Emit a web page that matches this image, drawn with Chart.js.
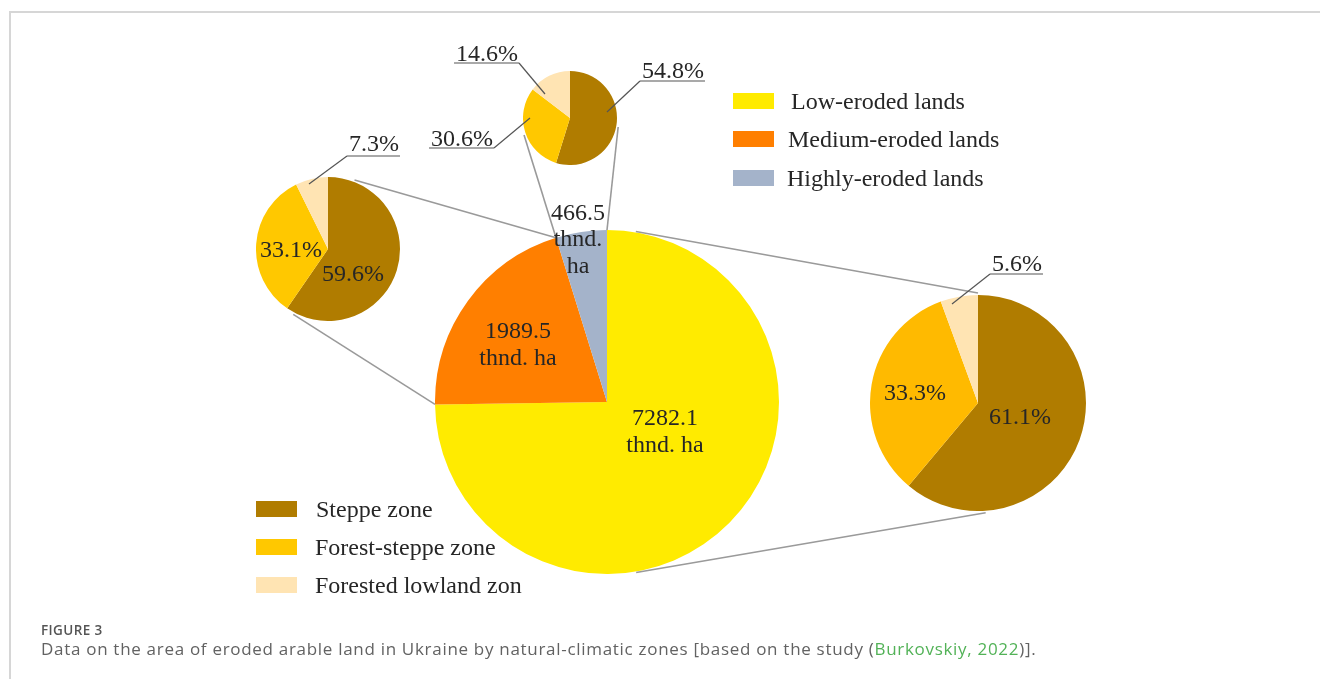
<!DOCTYPE html>
<html>
<head>
<meta charset="utf-8">
<script src="https://cdn.jsdelivr.net/npm/chart.js@4.4.1/dist/chart.umd.min.js"></script>
<style>
  body { margin: 0; background: #fff; }
  #wrap { position: relative; width: 1320px; height: 679px; overflow: hidden; font-family: "Liberation Serif", "Times New Roman", serif; color: #262626; }
  #frame { position: absolute; left: 9px; top: 11px; width: 1320px; height: 700px; border-top: 2px solid #d6d6d6; border-left: 2px solid #d6d6d6; }
  canvas.pie { position: absolute; }
  #overlay { position: absolute; left: 0; top: 0; pointer-events: none; }
  .legend-row { position: absolute; font-size: 24px; line-height: 24px; white-space: nowrap; }
  .legend-row span.sw { position: absolute; width: 41px; height: 16px; top: 4px; }
  .legend-row span.txt { position: absolute; top: 0; }
  #fig { position: absolute; left: 41px; top: 621px; font-family: "Open Sans", sans-serif; font-size: 13.5px; font-weight: 600; color: #555; letter-spacing: 0.4px; }
  #cap { position: absolute; left: 41px; top: 637px; font-family: "Open Sans", sans-serif; font-size: 17px; color: #626262; letter-spacing: 0.7px; white-space: nowrap; }
  #cap a { color: #52b257; text-decoration: none; }
</style>
</head>
<body>
<div id="wrap">
  <div id="frame"></div>
  <canvas id="pieBig" class="pie"></canvas>
  <canvas id="pieMedium" class="pie"></canvas>
  <canvas id="pieHigh" class="pie"></canvas>
  <canvas id="pieLow" class="pie"></canvas>
  <canvas id="overlay" width="1320" height="679"></canvas>
  <div id="legends"></div>
  <div id="fig">FIGURE 3</div>
  <div id="cap">Data on the area of eroded arable land in Ukraine by natural-climatic zones [based on the study (<a>Burkovskiy, 2022</a>)].</div>
</div>
<script>
// dados
const erosionLabels = ['Low-eroded lands', 'Medium-eroded lands', 'Highly-eroded lands'];
const erosionArea = [7282.1, 1989.5, 466.5]; // thnd. ha
const zoneLabels = ['Steppe zone', 'Forest-steppe zone', 'Forested lowland zon'];
const lowZoneShare = [61.1, 33.3, 5.6];     // %
const mediumZoneShare = [59.6, 33.1, 7.3];  // %
const highZoneShare = [54.8, 30.6, 14.6];   // %

// cores
const erosionColors = ['#ffeb00', '#ff7f00', '#a4b3ca'];
const zoneColors = ['#b07c00', '#ffc800', '#ffe4b3'];
const zoneColorsRight = ['#b07c00', '#ffba00', '#ffe4b3'];

const FONT = '24px "Liberation Serif", "Times New Roman", serif';

// posição e tamanho de cada pizza (centro + raio)
const pieLayout = {
    big:    { canvas: 'pieBig',    cx: 607, cy: 402, r: 172 },
    medium: { canvas: 'pieMedium', cx: 328, cy: 249, r: 72 },
    high:   { canvas: 'pieHigh',   cx: 570, cy: 118, r: 47 },
    low:    { canvas: 'pieLow',    cx: 978, cy: 403, r: 108 }
};

// rótulos: posição relativa ao centro da pizza
const labelLayout = {
    big: [{ dx: 58, dy: 30 }, { dx: -89, dy: -57 }, { dx: -29, dy: -162 }],
    medium: [{ dx: 25, dy: 26 }, { dx: -37, dy: 2 },
             { dx: 46, dy: -104, uy: -93, side: 'left', ax: -19, ay: -65 }],
    high: [{ dx: 103, dy: -46, uy: -37, side: 'left', ax: 37, ay: -6 },
           { dx: -108, dy: 22, uy: 30, side: 'right', ax: -40, ay: 0 },
           { dx: -83, dy: -63, uy: -55, side: 'right', ax: -25, ay: -24 }],
    low: [{ dx: 42, dy: 15 }, { dx: -63, dy: -9 },
          { dx: 39, dy: -138, uy: -129, side: 'left', ax: -26, ay: -99 }]
};

// linhas de ligação: [pizza, ângulo em graus (0 = topo, horário), folga]
const connectors = [
    { a: ['medium', 21, 2],  b: ['big', { slice: 1, edge: 'endAngle' }, 0] },
    { a: ['medium', 208, 2], b: ['big', { slice: 1, edge: 'startAngle' }, 0] },
    { a: ['high', 249.8, 2], b: ['big', { slice: 2, edge: 'startAngle' }, 0] },
    { a: ['high', 100.6, 2], b: ['big', { slice: 2, edge: 'endAngle' }, 0] },
    { a: ['low', 0, 2],      b: ['big', 9.6, 1] },
    { a: ['low', 176, 2],    b: ['big', 170.3, 1] }
];

const charts = {};

function criarPizza(key, values, colors) {
    const lay = pieLayout[key];
    const cv = document.getElementById(lay.canvas);
    cv.width = lay.r * 2;
    cv.height = lay.r * 2;
    cv.style.left = (lay.cx - lay.r) + 'px';
    cv.style.top = (lay.cy - lay.r) + 'px';
    charts[key] = new Chart(cv, {
        type: 'pie',
        data: {
            labels: key === 'big' ? erosionLabels : zoneLabels,
            datasets: [{ data: values, backgroundColor: colors, borderWidth: 0 }]
        },
        options: {
            responsive: false,
            animation: false,
            layout: { padding: 0 },
            plugins: { legend: { display: false }, tooltip: { enabled: false } }
        }
    });
}

criarPizza('big', erosionArea, erosionColors);
criarPizza('medium', mediumZoneShare, zoneColors);
criarPizza('high', highZoneShare, zoneColors);
criarPizza('low', lowZoneShare, zoneColorsRight);

function centro(key) {
    const ch = charts[key];
    const arc = ch.getDatasetMeta(0).data[0];
    return { x: ch.canvas.offsetLeft + arc.x, y: ch.canvas.offsetTop + arc.y, r: arc.outerRadius };
}

function grau(key, ang) {
    if (typeof ang === 'number') return ang;
    const arc = charts[key].getDatasetMeta(0).data[ang.slice];
    return (arc[ang.edge] + Math.PI / 2) * 180 / Math.PI;
}

function pontoNoCirculo(key, ang, folga) {
    const c = centro(key);
    const a = grau(key, ang) * Math.PI / 180 - Math.PI / 2;
    return [c.x + (c.r + folga) * Math.cos(a), c.y + (c.r + folga) * Math.sin(a)];
}

function textoRotulo(key, i) {
    if (key === 'big') {
        const v = erosionArea[i].toFixed(1);
        return i === 2 ? [v, 'thnd.', 'ha'] : [v, 'thnd. ha'];
    }
    const arr = key === 'medium' ? mediumZoneShare : key === 'high' ? highZoneShare : lowZoneShare;
    return [arr[i].toFixed(1) + '%'];
}

function desenharOverlay() {
    const ctx = document.getElementById('overlay').getContext('2d');

    // ligações entre as pizzas
    ctx.strokeStyle = '#9a9a9a';
    ctx.lineWidth = 1.6;
    connectors.forEach(cn => {
        const p = pontoNoCirculo(cn.a[0], cn.a[1], cn.a[2]);
        const q = pontoNoCirculo(cn.b[0], cn.b[1], cn.b[2]);
        ctx.beginPath();
        ctx.moveTo(p[0], p[1]);
        ctx.lineTo(q[0], q[1]);
        ctx.stroke();
    });

    // rótulos
    ctx.font = FONT;
    ctx.fillStyle = '#262626';
    ctx.textAlign = 'center';
    ctx.textBaseline = 'middle';
    Object.keys(labelLayout).forEach(key => {
        const c = centro(key);
        labelLayout[key].forEach((lb, i) => {
            const linhas = textoRotulo(key, i);
            const lh = 26.5;
            const y0 = c.y + lb.dy - (linhas.length - 1) * lh / 2;
            linhas.forEach((t, k) => ctx.fillText(t, c.x + lb.dx, y0 + k * lh));

            if (lb.uy !== undefined) {
                const w = ctx.measureText(linhas[0]).width;
                const x1 = c.x + lb.dx - w / 2 - 2;
                const x2 = c.x + lb.dx + w / 2 + 1;
                const uy = c.y + lb.uy;
                ctx.strokeStyle = '#555';
                ctx.lineWidth = 1.2;
                ctx.beginPath();
                ctx.moveTo(x1, uy);
                ctx.lineTo(x2, uy);
                ctx.stroke();
                const sx = lb.side === 'left' ? x1 : x2;
                ctx.beginPath();
                ctx.moveTo(sx, uy);
                ctx.lineTo(c.x + lb.ax, c.y + lb.ay);
                ctx.stroke();
            }
        });
    });
}

desenharOverlay();

// legendas
function criarLegenda(labels, colors, x, yCentros, txtX) {
    const box = document.getElementById('legends');
    labels.forEach((lab, i) => {
        const row = document.createElement('div');
        row.className = 'legend-row';
        row.style.left = x + 'px';
        row.style.top = (yCentros[i] - 12) + 'px';
        row.innerHTML = `<span class="sw" style="background:${colors[i]}"></span><span class="txt" style="left:${txtX[i]}px">${lab}</span>`;
        box.appendChild(row);
    });
}

criarLegenda(erosionLabels, erosionColors, 733, [101, 139, 178], [58, 55, 54]);
criarLegenda(zoneLabels, zoneColors, 256, [509, 547, 585], [60, 59, 59]);
</script>
</body>
</html>
